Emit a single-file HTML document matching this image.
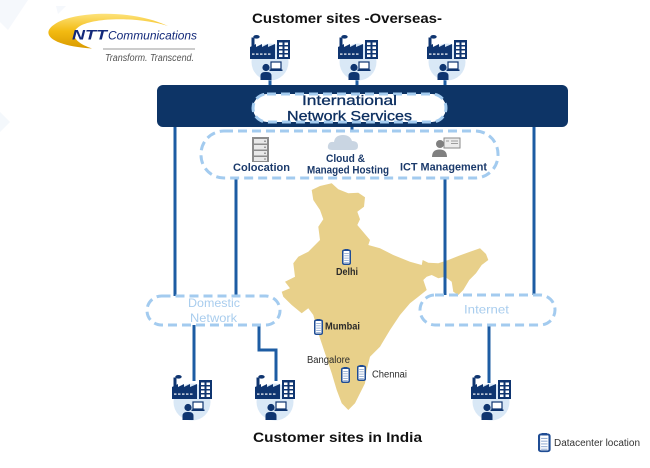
<!DOCTYPE html>
<html><head><meta charset="utf-8"><style>
html,body{margin:0;padding:0;background:#fff;}
svg{display:block;}
text{font-family:"Liberation Sans",Arial,sans-serif;}
</style></head><body>
<svg width="650" height="468" viewBox="0 0 650 468" xmlns="http://www.w3.org/2000/svg">
<defs>
  <linearGradient id="gold" x1="0" y1="0" x2="0" y2="1">
    <stop offset="0" stop-color="#fde27a"/>
    <stop offset="0.5" stop-color="#f3bb12"/>
    <stop offset="1" stop-color="#d99a00"/>
  </linearGradient>
  <g id="site">
    <circle cx="20" cy="27" r="18.5" fill="#d9e8f6"/>
    <ellipse cx="6.5" cy="1.8" rx="3.2" ry="1.8" fill="#0f3570"/>
    <rect x="1.5" y="2.5" width="3" height="10" fill="#0f3570"/>
    <path d="M0 24 V12 L6 9 V12 L12 9 V12 L18 9 V12 L25 9 V24 Z" fill="#0f3570"/>
    <g fill="#fff">
      <rect x="2" y="18.5" width="2.5" height="1.2"/><rect x="6" y="18.5" width="2.5" height="1.2"/>
      <rect x="10" y="18.5" width="2.5" height="1.2"/><rect x="14" y="18.5" width="2.5" height="1.2"/>
      <rect x="18" y="18.5" width="2.5" height="1.2"/>
    </g>
    <rect x="27" y="5" width="13" height="19" fill="#0f3570"/>
    <g fill="#fff">
      <rect x="29" y="7.5" width="3.5" height="2.5"/><rect x="34.5" y="7.5" width="3.5" height="2.5"/>
      <rect x="29" y="11.5" width="3.5" height="2.5"/><rect x="34.5" y="11.5" width="3.5" height="2.5"/>
      <rect x="29" y="15.5" width="3.5" height="2.5"/><rect x="34.5" y="15.5" width="3.5" height="2.5"/>
      <rect x="29" y="19.5" width="3.5" height="2.5"/><rect x="34.5" y="19.5" width="3.5" height="2.5"/>
    </g>
    <rect x="21" y="27" width="10" height="7" fill="#fff" stroke="#0f3570" stroke-width="1.2"/>
    <rect x="19.5" y="34.5" width="13" height="1.5" fill="#0f3570"/>
    <circle cx="16" cy="32.5" r="3.6" fill="#0f3570"/>
    <path d="M10.5 45 V41 Q10.5 37 15 37 H17 Q21.5 37 21.5 41 V45 Z" fill="#0f3570"/>
  </g>
  <g id="dc">
    <rect x="0.75" y="1.2" width="7.5" height="14" rx="1.3" fill="#fff" stroke="#1f4c94" stroke-width="1.5"/>
    <rect x="2.5" y="0" width="4" height="2" fill="#1f4c94"/>
    <g stroke="#8aa6cf" stroke-width="0.8">
      <line x1="2.2" y1="4.5" x2="6.8" y2="4.5"/><line x1="2.2" y1="6.8" x2="6.8" y2="6.8"/>
      <line x1="2.2" y1="9.1" x2="6.8" y2="9.1"/><line x1="2.2" y1="11.4" x2="6.8" y2="11.4"/>
      <line x1="2.2" y1="13.5" x2="6.8" y2="13.5"/>
    </g>
  </g>
</defs>

<!-- faint background shapes -->
<polygon points="0,0 28,0 8,30 0,22" fill="#f5f8fc"/>
<polygon points="0,112 10,122 0,132" fill="#f4f8fc"/>
<polygon points="56,6 66,6 58,14" fill="#f5f8fc"/>

<!-- Logo -->
<path d="M92 48.5 C55 46,38 35,55 24 C72 12,130 8,168 26 C140 17,96 17,80 26 C70 32,72 42,92 48.5 Z" fill="url(#gold)"/>
<text x="72" y="39.5" font-size="14" font-weight="bold" font-style="italic" fill="#13297a" textLength="35" lengthAdjust="spacingAndGlyphs">NTT</text>
<text x="108" y="39.5" font-size="12" font-style="italic" fill="#13297a" textLength="89" lengthAdjust="spacingAndGlyphs">Communications</text>
<line x1="103" y1="49" x2="195" y2="49" stroke="#9a9a9a" stroke-width="1"/>
<text x="105" y="61" font-size="10" font-style="italic" fill="#555" textLength="89" lengthAdjust="spacingAndGlyphs">Transform. Transcend.</text>

<!-- Titles -->
<text x="252" y="23" font-size="14" font-weight="bold" fill="#111" textLength="190" lengthAdjust="spacingAndGlyphs">Customer sites -Overseas-</text>
<text x="253" y="442" font-size="14" font-weight="bold" fill="#111" textLength="169" lengthAdjust="spacingAndGlyphs">Customer sites in India</text>

<!-- India map -->
<polygon fill="#e8d08a" points="311.7,190 320,186 331.7,183.3 338.3,189.3 348.3,193.3 358.3,192.7 365,197.3 364,206.7 357.3,211.7 360,219.3 357.3,225 370,240 368.3,245 380,248.3 393.3,255 410,261.7 421.7,265 422.7,260 428.3,262.7 438.3,263.3 448.3,260 458.3,256 470,251.7 480,248.3 486,254 488.3,260 481.7,265 476,273.3 469.3,280 463.3,290 458.3,295 453.3,291.7 451.7,281.7 445,276.7 438.3,278.3 431.7,275 426.7,276.7 423.3,280 426.7,290 418.3,296.7 410,303.3 400,315 390,330 380,346.7 370,356.7 366.7,370 365,383.3 360,393.3 355,403.3 348.3,410 341.7,403.3 336.7,390 331.7,373.3 325,353.3 318.3,333.3 313.3,315 308.3,308.3 301.7,313.3 291.7,305 283.3,296.7 281.7,291.7 290,288.3 285,281.7 295,276.7 293.3,263.3 298.3,256.7 308.3,251.7 320,240 318.3,226.7 323.3,219.3 320,210 313.3,200"/>

<!-- connector lines -->
<g stroke="#1d5ca3" stroke-width="3" fill="none">
  <line x1="175" y1="126" x2="175" y2="297"/>
  <line x1="534" y1="126" x2="534" y2="296"/>
  <line x1="236" y1="177" x2="236" y2="297"/>
  <line x1="445" y1="177" x2="445" y2="296"/>
  <line x1="352" y1="126" x2="352" y2="132"/>
  <line x1="270" y1="80" x2="270" y2="86"/>
  <line x1="357" y1="80" x2="357" y2="86"/>
  <line x1="445" y1="80" x2="445" y2="86"/>
  <line x1="194" y1="324" x2="194" y2="381"/>
  <polyline points="259,324 259,350 276,350 276,381"/>
  <line x1="489" y1="324" x2="489" y2="383"/>
</g>

<!-- banner -->
<rect x="157" y="85" width="411" height="42" rx="6" fill="#0d3466"/>
<rect x="253" y="94" width="193" height="28" rx="14" fill="#fff" stroke="#a3cbef" stroke-width="3" stroke-dasharray="9 5"/>
<text x="302" y="105" font-size="14" fill="#0d2f60" stroke="#0d2f60" stroke-width="0.3" textLength="95" lengthAdjust="spacingAndGlyphs">International</text>
<text x="287" y="120.5" font-size="14" fill="#0d2f60" stroke="#0d2f60" stroke-width="0.3" textLength="125" lengthAdjust="spacingAndGlyphs">Network Services</text>

<!-- services pill -->
<rect x="201" y="131" width="297" height="47" rx="23" fill="#fff" stroke="#a3cbef" stroke-width="3" stroke-dasharray="9 5"/>
<!-- server -->
<rect x="252" y="137" width="17" height="25" fill="#8c8c8c"/>
<g fill="#e9e9e9">
  <rect x="254" y="139" width="13" height="4.5"/><rect x="254" y="145" width="13" height="4.5"/>
  <rect x="254" y="151" width="13" height="4.5"/><rect x="254" y="157" width="13" height="4"/>
</g>
<g fill="#777"><circle cx="265" cy="141.2" r="0.8"/><circle cx="265" cy="147.2" r="0.8"/><circle cx="265" cy="153.2" r="0.8"/><circle cx="265" cy="159" r="0.8"/></g>
<!-- cloud -->
<path d="M332 150 Q327 150 328 145.5 Q329 141 334 142 Q335 135 343 135 Q350 135 352 141 Q358 141 358 146 Q358 150 354 150 Z" fill="#c9d5e2"/>
<!-- ICT -->
<rect x="444" y="138" width="16" height="10" fill="#ececec" stroke="#8a8a8a" stroke-width="1"/>
<g stroke="#8a8a8a" stroke-width="0.8"><line x1="451" y1="141" x2="458" y2="141"/><line x1="451" y1="143.5" x2="458" y2="143.5"/><line x1="446" y1="141" x2="449" y2="141"/></g>
<circle cx="440" cy="144" r="4" fill="#808080"/>
<path d="M432 157 Q432 149.5 439.5 149.5 Q447 149.5 447 157 Z" fill="#808080"/>
<text x="233" y="171" font-size="11" font-weight="bold" fill="#1b3a6b" textLength="57" lengthAdjust="spacingAndGlyphs">Colocation</text>
<text x="326" y="162" font-size="11" font-weight="bold" fill="#1b3a6b" textLength="39" lengthAdjust="spacingAndGlyphs">Cloud &amp;</text>
<text x="307" y="173.5" font-size="11" font-weight="bold" fill="#1b3a6b" textLength="82" lengthAdjust="spacingAndGlyphs">Managed Hosting</text>
<text x="400" y="170.5" font-size="11" font-weight="bold" fill="#1b3a6b" textLength="87" lengthAdjust="spacingAndGlyphs">ICT Management</text>

<!-- domestic / internet pills -->
<rect x="147" y="296" width="133" height="29" rx="14.5" fill="#fff" stroke="#a3cbef" stroke-width="3" stroke-dasharray="9 5"/>
<text x="188" y="307" font-size="12" fill="#a9cdee" textLength="52" lengthAdjust="spacingAndGlyphs">Domestic</text>
<text x="190" y="322" font-size="12" fill="#a9cdee" textLength="47" lengthAdjust="spacingAndGlyphs">Network</text>
<rect x="420" y="295" width="135" height="30" rx="15" fill="#fff" stroke="#a3cbef" stroke-width="3" stroke-dasharray="9 5"/>
<text x="464" y="313.5" font-size="12" fill="#a9cdee" textLength="45" lengthAdjust="spacingAndGlyphs">Internet</text>

<!-- site icons -->
<use href="#site" x="250" y="35"/>
<use href="#site" x="338" y="35"/>
<use href="#site" x="427" y="35"/>
<use href="#site" x="172" y="375"/>
<use href="#site" x="255" y="375"/>
<use href="#site" x="471" y="375"/>

<!-- datacenters -->
<use href="#dc" x="342" y="249"/>
<use href="#dc" x="314" y="319"/>
<use href="#dc" x="341" y="367"/>
<use href="#dc" x="357" y="365"/>
<g transform="translate(538,433) scale(1.4,1.2)"><use href="#dc"/></g>

<g font-size="10" fill="#2a2a2a">
  <text x="336" y="275" font-weight="bold" textLength="22" lengthAdjust="spacingAndGlyphs">Delhi</text>
  <text x="325" y="329.5" font-weight="bold" textLength="35" lengthAdjust="spacingAndGlyphs">Mumbai</text>
  <text x="307" y="363" textLength="43" lengthAdjust="spacingAndGlyphs">Bangalore</text>
  <text x="372" y="377.5" textLength="35" lengthAdjust="spacingAndGlyphs">Chennai</text>
  <text x="554" y="446" fill="#333" textLength="86" lengthAdjust="spacingAndGlyphs">Datacenter location</text>
</g>
</svg>
</body></html>
